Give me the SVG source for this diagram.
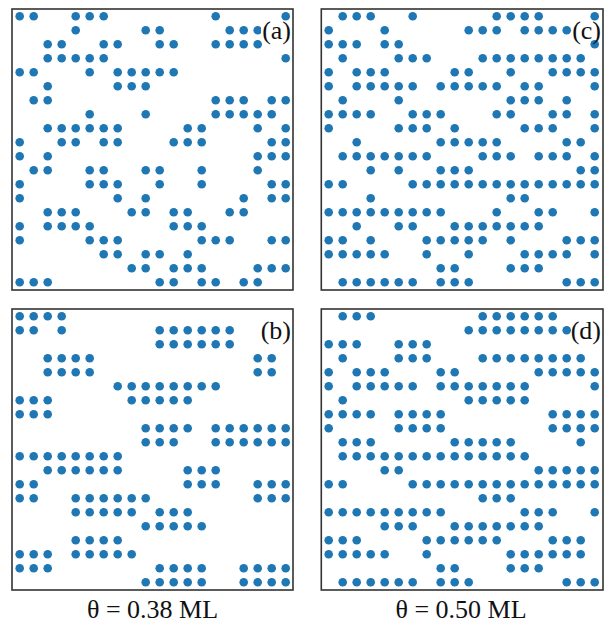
<svg xmlns="http://www.w3.org/2000/svg" width="610" height="624" viewBox="0 0 610 624">
<style>
.box{fill:#fff;stroke:#333;stroke-width:1.6}
.dots circle{fill:#1f77b4}
.lbl{font-family:"Liberation Serif","Times New Roman",serif;font-size:26px;fill:#111}
.cap{font-family:"Liberation Serif","Times New Roman",serif;font-size:26px;fill:#111;text-anchor:middle}
.bg{fill:#fff}
</style>
<rect width="610" height="624" fill="#fff"/>
<g id="panel-a">
<rect class="box" x="12" y="9" width="281" height="281"/>
<g class="dots" transform="translate(19.7,16.3)">
<circle cx="0" cy="0" r="4.3"/><circle cx="14" cy="0" r="4.3"/><circle cx="56" cy="0" r="4.3"/><circle cx="70" cy="0" r="4.3"/><circle cx="84" cy="0" r="4.3"/><circle cx="196" cy="0" r="4.3"/><circle cx="266" cy="0" r="4.3"/>
<circle cx="56" cy="14" r="4.3"/><circle cx="126" cy="14" r="4.3"/><circle cx="140" cy="14" r="4.3"/><circle cx="210" cy="14" r="4.3"/><circle cx="224" cy="14" r="4.3"/><circle cx="238" cy="14" r="4.3"/>
<circle cx="28" cy="28" r="4.3"/><circle cx="42" cy="28" r="4.3"/><circle cx="84" cy="28" r="4.3"/><circle cx="98" cy="28" r="4.3"/><circle cx="140" cy="28" r="4.3"/><circle cx="154" cy="28" r="4.3"/><circle cx="196" cy="28" r="4.3"/><circle cx="210" cy="28" r="4.3"/><circle cx="224" cy="28" r="4.3"/><circle cx="238" cy="28" r="4.3"/>
<circle cx="28" cy="42" r="4.3"/><circle cx="42" cy="42" r="4.3"/><circle cx="56" cy="42" r="4.3"/><circle cx="70" cy="42" r="4.3"/><circle cx="84" cy="42" r="4.3"/><circle cx="266" cy="42" r="4.3"/>
<circle cx="0" cy="56" r="4.3"/><circle cx="14" cy="56" r="4.3"/><circle cx="70" cy="56" r="4.3"/><circle cx="98" cy="56" r="4.3"/><circle cx="112" cy="56" r="4.3"/><circle cx="126" cy="56" r="4.3"/><circle cx="140" cy="56" r="4.3"/><circle cx="154" cy="56" r="4.3"/>
<circle cx="28" cy="70" r="4.3"/><circle cx="98" cy="70" r="4.3"/><circle cx="112" cy="70" r="4.3"/><circle cx="126" cy="70" r="4.3"/>
<circle cx="14" cy="84" r="4.3"/><circle cx="28" cy="84" r="4.3"/><circle cx="196" cy="84" r="4.3"/><circle cx="210" cy="84" r="4.3"/><circle cx="224" cy="84" r="4.3"/><circle cx="252" cy="84" r="4.3"/><circle cx="266" cy="84" r="4.3"/>
<circle cx="70" cy="98" r="4.3"/><circle cx="126" cy="98" r="4.3"/><circle cx="196" cy="98" r="4.3"/><circle cx="210" cy="98" r="4.3"/><circle cx="224" cy="98" r="4.3"/><circle cx="238" cy="98" r="4.3"/><circle cx="252" cy="98" r="4.3"/>
<circle cx="28" cy="112" r="4.3"/><circle cx="42" cy="112" r="4.3"/><circle cx="56" cy="112" r="4.3"/><circle cx="70" cy="112" r="4.3"/><circle cx="84" cy="112" r="4.3"/><circle cx="98" cy="112" r="4.3"/><circle cx="168" cy="112" r="4.3"/><circle cx="182" cy="112" r="4.3"/><circle cx="238" cy="112" r="4.3"/><circle cx="266" cy="112" r="4.3"/>
<circle cx="0" cy="126" r="4.3"/><circle cx="42" cy="126" r="4.3"/><circle cx="56" cy="126" r="4.3"/><circle cx="84" cy="126" r="4.3"/><circle cx="98" cy="126" r="4.3"/><circle cx="154" cy="126" r="4.3"/><circle cx="168" cy="126" r="4.3"/><circle cx="182" cy="126" r="4.3"/><circle cx="252" cy="126" r="4.3"/><circle cx="266" cy="126" r="4.3"/>
<circle cx="0" cy="140" r="4.3"/><circle cx="28" cy="140" r="4.3"/><circle cx="238" cy="140" r="4.3"/><circle cx="252" cy="140" r="4.3"/><circle cx="266" cy="140" r="4.3"/>
<circle cx="14" cy="154" r="4.3"/><circle cx="28" cy="154" r="4.3"/><circle cx="70" cy="154" r="4.3"/><circle cx="84" cy="154" r="4.3"/><circle cx="126" cy="154" r="4.3"/><circle cx="140" cy="154" r="4.3"/><circle cx="182" cy="154" r="4.3"/><circle cx="238" cy="154" r="4.3"/>
<circle cx="0" cy="168" r="4.3"/><circle cx="70" cy="168" r="4.3"/><circle cx="84" cy="168" r="4.3"/><circle cx="98" cy="168" r="4.3"/><circle cx="140" cy="168" r="4.3"/><circle cx="182" cy="168" r="4.3"/><circle cx="252" cy="168" r="4.3"/><circle cx="266" cy="168" r="4.3"/>
<circle cx="0" cy="182" r="4.3"/><circle cx="98" cy="182" r="4.3"/><circle cx="126" cy="182" r="4.3"/><circle cx="224" cy="182" r="4.3"/><circle cx="252" cy="182" r="4.3"/><circle cx="266" cy="182" r="4.3"/>
<circle cx="28" cy="196" r="4.3"/><circle cx="42" cy="196" r="4.3"/><circle cx="56" cy="196" r="4.3"/><circle cx="112" cy="196" r="4.3"/><circle cx="126" cy="196" r="4.3"/><circle cx="154" cy="196" r="4.3"/><circle cx="168" cy="196" r="4.3"/><circle cx="210" cy="196" r="4.3"/><circle cx="224" cy="196" r="4.3"/>
<circle cx="0" cy="210" r="4.3"/><circle cx="28" cy="210" r="4.3"/><circle cx="42" cy="210" r="4.3"/><circle cx="56" cy="210" r="4.3"/><circle cx="70" cy="210" r="4.3"/><circle cx="154" cy="210" r="4.3"/><circle cx="168" cy="210" r="4.3"/><circle cx="182" cy="210" r="4.3"/>
<circle cx="0" cy="224" r="4.3"/><circle cx="70" cy="224" r="4.3"/><circle cx="84" cy="224" r="4.3"/><circle cx="98" cy="224" r="4.3"/><circle cx="182" cy="224" r="4.3"/><circle cx="196" cy="224" r="4.3"/><circle cx="210" cy="224" r="4.3"/><circle cx="252" cy="224" r="4.3"/><circle cx="266" cy="224" r="4.3"/>
<circle cx="84" cy="238" r="4.3"/><circle cx="98" cy="238" r="4.3"/><circle cx="126" cy="238" r="4.3"/><circle cx="140" cy="238" r="4.3"/><circle cx="168" cy="238" r="4.3"/>
<circle cx="112" cy="252" r="4.3"/><circle cx="126" cy="252" r="4.3"/><circle cx="154" cy="252" r="4.3"/><circle cx="168" cy="252" r="4.3"/><circle cx="182" cy="252" r="4.3"/><circle cx="238" cy="252" r="4.3"/><circle cx="252" cy="252" r="4.3"/><circle cx="266" cy="252" r="4.3"/>
<circle cx="0" cy="266" r="4.3"/><circle cx="14" cy="266" r="4.3"/><circle cx="28" cy="266" r="4.3"/><circle cx="140" cy="266" r="4.3"/><circle cx="154" cy="266" r="4.3"/><circle cx="182" cy="266" r="4.3"/><circle cx="196" cy="266" r="4.3"/><circle cx="224" cy="266" r="4.3"/><circle cx="238" cy="266" r="4.3"/>
</g>
<rect class="bg" x="261" y="21" width="30" height="19"/>
<text class="lbl" x="291" y="39" text-anchor="end">(a)</text>
</g>
<g id="panel-c">
<rect class="box" x="321.3" y="9" width="281.7" height="281"/>
<g class="dots" transform="translate(328.7,16.3)">
<circle cx="14" cy="0" r="4.3"/><circle cx="28" cy="0" r="4.3"/><circle cx="42" cy="0" r="4.3"/><circle cx="84" cy="0" r="4.3"/><circle cx="168" cy="0" r="4.3"/><circle cx="182" cy="0" r="4.3"/><circle cx="196" cy="0" r="4.3"/><circle cx="210" cy="0" r="4.3"/><circle cx="266" cy="0" r="4.3"/>
<circle cx="0" cy="14" r="4.3"/><circle cx="56" cy="14" r="4.3"/><circle cx="140" cy="14" r="4.3"/><circle cx="154" cy="14" r="4.3"/><circle cx="168" cy="14" r="4.3"/><circle cx="196" cy="14" r="4.3"/><circle cx="210" cy="14" r="4.3"/><circle cx="224" cy="14" r="4.3"/><circle cx="238" cy="14" r="4.3"/>
<circle cx="0" cy="28" r="4.3"/><circle cx="14" cy="28" r="4.3"/><circle cx="28" cy="28" r="4.3"/><circle cx="56" cy="28" r="4.3"/><circle cx="70" cy="28" r="4.3"/><circle cx="266" cy="28" r="4.3"/>
<circle cx="14" cy="42" r="4.3"/><circle cx="70" cy="42" r="4.3"/><circle cx="84" cy="42" r="4.3"/><circle cx="98" cy="42" r="4.3"/><circle cx="154" cy="42" r="4.3"/><circle cx="168" cy="42" r="4.3"/><circle cx="182" cy="42" r="4.3"/><circle cx="196" cy="42" r="4.3"/><circle cx="210" cy="42" r="4.3"/><circle cx="224" cy="42" r="4.3"/><circle cx="238" cy="42" r="4.3"/><circle cx="252" cy="42" r="4.3"/>
<circle cx="0" cy="56" r="4.3"/><circle cx="28" cy="56" r="4.3"/><circle cx="42" cy="56" r="4.3"/><circle cx="56" cy="56" r="4.3"/><circle cx="126" cy="56" r="4.3"/><circle cx="140" cy="56" r="4.3"/><circle cx="182" cy="56" r="4.3"/><circle cx="224" cy="56" r="4.3"/><circle cx="238" cy="56" r="4.3"/><circle cx="252" cy="56" r="4.3"/><circle cx="266" cy="56" r="4.3"/>
<circle cx="0" cy="70" r="4.3"/><circle cx="28" cy="70" r="4.3"/><circle cx="42" cy="70" r="4.3"/><circle cx="56" cy="70" r="4.3"/><circle cx="70" cy="70" r="4.3"/><circle cx="84" cy="70" r="4.3"/><circle cx="112" cy="70" r="4.3"/><circle cx="126" cy="70" r="4.3"/><circle cx="140" cy="70" r="4.3"/><circle cx="154" cy="70" r="4.3"/><circle cx="168" cy="70" r="4.3"/><circle cx="196" cy="70" r="4.3"/><circle cx="210" cy="70" r="4.3"/><circle cx="266" cy="70" r="4.3"/>
<circle cx="14" cy="84" r="4.3"/><circle cx="70" cy="84" r="4.3"/><circle cx="182" cy="84" r="4.3"/><circle cx="196" cy="84" r="4.3"/><circle cx="210" cy="84" r="4.3"/><circle cx="238" cy="84" r="4.3"/>
<circle cx="0" cy="98" r="4.3"/><circle cx="14" cy="98" r="4.3"/><circle cx="28" cy="98" r="4.3"/><circle cx="42" cy="98" r="4.3"/><circle cx="84" cy="98" r="4.3"/><circle cx="98" cy="98" r="4.3"/><circle cx="112" cy="98" r="4.3"/><circle cx="168" cy="98" r="4.3"/><circle cx="182" cy="98" r="4.3"/><circle cx="224" cy="98" r="4.3"/><circle cx="238" cy="98" r="4.3"/><circle cx="266" cy="98" r="4.3"/>
<circle cx="0" cy="112" r="4.3"/><circle cx="70" cy="112" r="4.3"/><circle cx="84" cy="112" r="4.3"/><circle cx="98" cy="112" r="4.3"/><circle cx="126" cy="112" r="4.3"/><circle cx="196" cy="112" r="4.3"/><circle cx="210" cy="112" r="4.3"/><circle cx="224" cy="112" r="4.3"/><circle cx="266" cy="112" r="4.3"/>
<circle cx="28" cy="126" r="4.3"/><circle cx="112" cy="126" r="4.3"/><circle cx="126" cy="126" r="4.3"/><circle cx="140" cy="126" r="4.3"/><circle cx="154" cy="126" r="4.3"/><circle cx="168" cy="126" r="4.3"/><circle cx="238" cy="126" r="4.3"/><circle cx="252" cy="126" r="4.3"/>
<circle cx="14" cy="140" r="4.3"/><circle cx="28" cy="140" r="4.3"/><circle cx="42" cy="140" r="4.3"/><circle cx="56" cy="140" r="4.3"/><circle cx="70" cy="140" r="4.3"/><circle cx="84" cy="140" r="4.3"/><circle cx="98" cy="140" r="4.3"/><circle cx="154" cy="140" r="4.3"/><circle cx="168" cy="140" r="4.3"/><circle cx="182" cy="140" r="4.3"/><circle cx="210" cy="140" r="4.3"/><circle cx="224" cy="140" r="4.3"/><circle cx="238" cy="140" r="4.3"/><circle cx="266" cy="140" r="4.3"/>
<circle cx="42" cy="154" r="4.3"/><circle cx="70" cy="154" r="4.3"/><circle cx="112" cy="154" r="4.3"/><circle cx="126" cy="154" r="4.3"/><circle cx="140" cy="154" r="4.3"/><circle cx="252" cy="154" r="4.3"/><circle cx="266" cy="154" r="4.3"/>
<circle cx="0" cy="168" r="4.3"/><circle cx="14" cy="168" r="4.3"/><circle cx="84" cy="168" r="4.3"/><circle cx="98" cy="168" r="4.3"/><circle cx="112" cy="168" r="4.3"/><circle cx="126" cy="168" r="4.3"/><circle cx="140" cy="168" r="4.3"/><circle cx="154" cy="168" r="4.3"/><circle cx="168" cy="168" r="4.3"/><circle cx="182" cy="168" r="4.3"/><circle cx="196" cy="168" r="4.3"/><circle cx="210" cy="168" r="4.3"/><circle cx="224" cy="168" r="4.3"/><circle cx="238" cy="168" r="4.3"/><circle cx="252" cy="168" r="4.3"/><circle cx="266" cy="168" r="4.3"/>
<circle cx="42" cy="182" r="4.3"/><circle cx="182" cy="182" r="4.3"/><circle cx="196" cy="182" r="4.3"/>
<circle cx="0" cy="196" r="4.3"/><circle cx="14" cy="196" r="4.3"/><circle cx="28" cy="196" r="4.3"/><circle cx="42" cy="196" r="4.3"/><circle cx="56" cy="196" r="4.3"/><circle cx="70" cy="196" r="4.3"/><circle cx="84" cy="196" r="4.3"/><circle cx="98" cy="196" r="4.3"/><circle cx="112" cy="196" r="4.3"/><circle cx="168" cy="196" r="4.3"/><circle cx="210" cy="196" r="4.3"/><circle cx="224" cy="196" r="4.3"/><circle cx="266" cy="196" r="4.3"/>
<circle cx="28" cy="210" r="4.3"/><circle cx="70" cy="210" r="4.3"/><circle cx="84" cy="210" r="4.3"/><circle cx="126" cy="210" r="4.3"/><circle cx="140" cy="210" r="4.3"/><circle cx="154" cy="210" r="4.3"/><circle cx="168" cy="210" r="4.3"/><circle cx="182" cy="210" r="4.3"/><circle cx="196" cy="210" r="4.3"/><circle cx="210" cy="210" r="4.3"/>
<circle cx="0" cy="224" r="4.3"/><circle cx="14" cy="224" r="4.3"/><circle cx="42" cy="224" r="4.3"/><circle cx="98" cy="224" r="4.3"/><circle cx="112" cy="224" r="4.3"/><circle cx="126" cy="224" r="4.3"/><circle cx="140" cy="224" r="4.3"/><circle cx="154" cy="224" r="4.3"/><circle cx="182" cy="224" r="4.3"/><circle cx="238" cy="224" r="4.3"/><circle cx="252" cy="224" r="4.3"/><circle cx="266" cy="224" r="4.3"/>
<circle cx="0" cy="238" r="4.3"/><circle cx="14" cy="238" r="4.3"/><circle cx="28" cy="238" r="4.3"/><circle cx="42" cy="238" r="4.3"/><circle cx="56" cy="238" r="4.3"/><circle cx="98" cy="238" r="4.3"/><circle cx="140" cy="238" r="4.3"/><circle cx="196" cy="238" r="4.3"/><circle cx="210" cy="238" r="4.3"/><circle cx="224" cy="238" r="4.3"/><circle cx="238" cy="238" r="4.3"/><circle cx="266" cy="238" r="4.3"/>
<circle cx="112" cy="252" r="4.3"/><circle cx="126" cy="252" r="4.3"/><circle cx="182" cy="252" r="4.3"/><circle cx="196" cy="252" r="4.3"/><circle cx="210" cy="252" r="4.3"/>
<circle cx="14" cy="266" r="4.3"/><circle cx="28" cy="266" r="4.3"/><circle cx="42" cy="266" r="4.3"/><circle cx="56" cy="266" r="4.3"/><circle cx="70" cy="266" r="4.3"/><circle cx="84" cy="266" r="4.3"/><circle cx="112" cy="266" r="4.3"/><circle cx="126" cy="266" r="4.3"/><circle cx="140" cy="266" r="4.3"/><circle cx="238" cy="266" r="4.3"/><circle cx="252" cy="266" r="4.3"/><circle cx="266" cy="266" r="4.3"/>
</g>
<rect class="bg" x="572" y="21" width="29" height="19"/>
<text class="lbl" x="601" y="39" text-anchor="end">(c)</text>
</g>
<g id="panel-b">
<rect class="box" x="12" y="309" width="281" height="281"/>
<g class="dots" transform="translate(19.7,316.3)">
<circle cx="0" cy="0" r="4.3"/><circle cx="14" cy="0" r="4.3"/><circle cx="28" cy="0" r="4.3"/><circle cx="42" cy="0" r="4.3"/>
<circle cx="0" cy="14" r="4.3"/><circle cx="14" cy="14" r="4.3"/><circle cx="42" cy="14" r="4.3"/><circle cx="140" cy="14" r="4.3"/><circle cx="154" cy="14" r="4.3"/><circle cx="168" cy="14" r="4.3"/><circle cx="182" cy="14" r="4.3"/><circle cx="196" cy="14" r="4.3"/><circle cx="210" cy="14" r="4.3"/>
<circle cx="140" cy="28" r="4.3"/><circle cx="154" cy="28" r="4.3"/><circle cx="168" cy="28" r="4.3"/><circle cx="182" cy="28" r="4.3"/><circle cx="196" cy="28" r="4.3"/><circle cx="210" cy="28" r="4.3"/>
<circle cx="28" cy="42" r="4.3"/><circle cx="42" cy="42" r="4.3"/><circle cx="56" cy="42" r="4.3"/><circle cx="70" cy="42" r="4.3"/><circle cx="238" cy="42" r="4.3"/><circle cx="252" cy="42" r="4.3"/>
<circle cx="28" cy="56" r="4.3"/><circle cx="42" cy="56" r="4.3"/><circle cx="56" cy="56" r="4.3"/><circle cx="70" cy="56" r="4.3"/><circle cx="238" cy="56" r="4.3"/><circle cx="252" cy="56" r="4.3"/>
<circle cx="98" cy="70" r="4.3"/><circle cx="112" cy="70" r="4.3"/><circle cx="126" cy="70" r="4.3"/><circle cx="140" cy="70" r="4.3"/><circle cx="154" cy="70" r="4.3"/><circle cx="168" cy="70" r="4.3"/><circle cx="182" cy="70" r="4.3"/><circle cx="196" cy="70" r="4.3"/>
<circle cx="0" cy="84" r="4.3"/><circle cx="14" cy="84" r="4.3"/><circle cx="28" cy="84" r="4.3"/><circle cx="112" cy="84" r="4.3"/><circle cx="126" cy="84" r="4.3"/><circle cx="140" cy="84" r="4.3"/><circle cx="154" cy="84" r="4.3"/><circle cx="168" cy="84" r="4.3"/>
<circle cx="0" cy="98" r="4.3"/><circle cx="14" cy="98" r="4.3"/><circle cx="28" cy="98" r="4.3"/>
<circle cx="126" cy="112" r="4.3"/><circle cx="140" cy="112" r="4.3"/><circle cx="154" cy="112" r="4.3"/><circle cx="168" cy="112" r="4.3"/><circle cx="196" cy="112" r="4.3"/><circle cx="210" cy="112" r="4.3"/><circle cx="224" cy="112" r="4.3"/><circle cx="238" cy="112" r="4.3"/><circle cx="252" cy="112" r="4.3"/><circle cx="266" cy="112" r="4.3"/>
<circle cx="126" cy="126" r="4.3"/><circle cx="140" cy="126" r="4.3"/><circle cx="154" cy="126" r="4.3"/><circle cx="196" cy="126" r="4.3"/><circle cx="210" cy="126" r="4.3"/><circle cx="224" cy="126" r="4.3"/><circle cx="238" cy="126" r="4.3"/><circle cx="252" cy="126" r="4.3"/><circle cx="266" cy="126" r="4.3"/>
<circle cx="0" cy="140" r="4.3"/><circle cx="14" cy="140" r="4.3"/><circle cx="28" cy="140" r="4.3"/><circle cx="42" cy="140" r="4.3"/><circle cx="56" cy="140" r="4.3"/><circle cx="70" cy="140" r="4.3"/><circle cx="84" cy="140" r="4.3"/><circle cx="98" cy="140" r="4.3"/>
<circle cx="28" cy="154" r="4.3"/><circle cx="42" cy="154" r="4.3"/><circle cx="56" cy="154" r="4.3"/><circle cx="70" cy="154" r="4.3"/><circle cx="84" cy="154" r="4.3"/><circle cx="98" cy="154" r="4.3"/><circle cx="168" cy="154" r="4.3"/><circle cx="182" cy="154" r="4.3"/><circle cx="196" cy="154" r="4.3"/>
<circle cx="0" cy="168" r="4.3"/><circle cx="14" cy="168" r="4.3"/><circle cx="168" cy="168" r="4.3"/><circle cx="182" cy="168" r="4.3"/><circle cx="196" cy="168" r="4.3"/><circle cx="238" cy="168" r="4.3"/><circle cx="252" cy="168" r="4.3"/><circle cx="266" cy="168" r="4.3"/>
<circle cx="0" cy="182" r="4.3"/><circle cx="14" cy="182" r="4.3"/><circle cx="56" cy="182" r="4.3"/><circle cx="70" cy="182" r="4.3"/><circle cx="84" cy="182" r="4.3"/><circle cx="98" cy="182" r="4.3"/><circle cx="112" cy="182" r="4.3"/><circle cx="126" cy="182" r="4.3"/><circle cx="238" cy="182" r="4.3"/><circle cx="252" cy="182" r="4.3"/><circle cx="266" cy="182" r="4.3"/>
<circle cx="56" cy="196" r="4.3"/><circle cx="70" cy="196" r="4.3"/><circle cx="84" cy="196" r="4.3"/><circle cx="98" cy="196" r="4.3"/><circle cx="112" cy="196" r="4.3"/><circle cx="140" cy="196" r="4.3"/><circle cx="154" cy="196" r="4.3"/><circle cx="168" cy="196" r="4.3"/>
<circle cx="126" cy="210" r="4.3"/><circle cx="140" cy="210" r="4.3"/><circle cx="154" cy="210" r="4.3"/><circle cx="168" cy="210" r="4.3"/><circle cx="182" cy="210" r="4.3"/>
<circle cx="56" cy="224" r="4.3"/><circle cx="70" cy="224" r="4.3"/><circle cx="84" cy="224" r="4.3"/><circle cx="98" cy="224" r="4.3"/>
<circle cx="0" cy="238" r="4.3"/><circle cx="14" cy="238" r="4.3"/><circle cx="28" cy="238" r="4.3"/><circle cx="56" cy="238" r="4.3"/><circle cx="70" cy="238" r="4.3"/><circle cx="84" cy="238" r="4.3"/><circle cx="98" cy="238" r="4.3"/><circle cx="112" cy="238" r="4.3"/>
<circle cx="0" cy="252" r="4.3"/><circle cx="14" cy="252" r="4.3"/><circle cx="28" cy="252" r="4.3"/><circle cx="140" cy="252" r="4.3"/><circle cx="154" cy="252" r="4.3"/><circle cx="168" cy="252" r="4.3"/><circle cx="182" cy="252" r="4.3"/><circle cx="224" cy="252" r="4.3"/><circle cx="238" cy="252" r="4.3"/><circle cx="252" cy="252" r="4.3"/><circle cx="266" cy="252" r="4.3"/>
<circle cx="126" cy="266" r="4.3"/><circle cx="140" cy="266" r="4.3"/><circle cx="154" cy="266" r="4.3"/><circle cx="168" cy="266" r="4.3"/><circle cx="182" cy="266" r="4.3"/><circle cx="224" cy="266" r="4.3"/><circle cx="238" cy="266" r="4.3"/><circle cx="252" cy="266" r="4.3"/><circle cx="266" cy="266" r="4.3"/>
</g>
<rect class="bg" x="261" y="321" width="30" height="19"/>
<text class="lbl" x="291" y="339" text-anchor="end">(b)</text>
</g>
<g id="panel-d">
<rect class="box" x="321.3" y="309" width="281.7" height="281"/>
<g class="dots" transform="translate(328.7,316.3)">
<circle cx="14" cy="0" r="4.3"/><circle cx="28" cy="0" r="4.3"/><circle cx="42" cy="0" r="4.3"/><circle cx="154" cy="0" r="4.3"/><circle cx="168" cy="0" r="4.3"/><circle cx="182" cy="0" r="4.3"/><circle cx="196" cy="0" r="4.3"/><circle cx="210" cy="0" r="4.3"/><circle cx="224" cy="0" r="4.3"/>
<circle cx="140" cy="14" r="4.3"/><circle cx="154" cy="14" r="4.3"/><circle cx="168" cy="14" r="4.3"/><circle cx="182" cy="14" r="4.3"/><circle cx="196" cy="14" r="4.3"/><circle cx="210" cy="14" r="4.3"/><circle cx="224" cy="14" r="4.3"/><circle cx="238" cy="14" r="4.3"/>
<circle cx="0" cy="28" r="4.3"/><circle cx="14" cy="28" r="4.3"/><circle cx="28" cy="28" r="4.3"/><circle cx="70" cy="28" r="4.3"/><circle cx="84" cy="28" r="4.3"/><circle cx="98" cy="28" r="4.3"/>
<circle cx="14" cy="42" r="4.3"/><circle cx="70" cy="42" r="4.3"/><circle cx="84" cy="42" r="4.3"/><circle cx="98" cy="42" r="4.3"/><circle cx="154" cy="42" r="4.3"/><circle cx="168" cy="42" r="4.3"/><circle cx="182" cy="42" r="4.3"/><circle cx="196" cy="42" r="4.3"/><circle cx="210" cy="42" r="4.3"/><circle cx="224" cy="42" r="4.3"/><circle cx="238" cy="42" r="4.3"/><circle cx="252" cy="42" r="4.3"/>
<circle cx="0" cy="56" r="4.3"/><circle cx="28" cy="56" r="4.3"/><circle cx="42" cy="56" r="4.3"/><circle cx="56" cy="56" r="4.3"/><circle cx="112" cy="56" r="4.3"/><circle cx="126" cy="56" r="4.3"/><circle cx="210" cy="56" r="4.3"/><circle cx="224" cy="56" r="4.3"/><circle cx="238" cy="56" r="4.3"/><circle cx="252" cy="56" r="4.3"/><circle cx="266" cy="56" r="4.3"/>
<circle cx="0" cy="70" r="4.3"/><circle cx="28" cy="70" r="4.3"/><circle cx="42" cy="70" r="4.3"/><circle cx="56" cy="70" r="4.3"/><circle cx="70" cy="70" r="4.3"/><circle cx="84" cy="70" r="4.3"/><circle cx="112" cy="70" r="4.3"/><circle cx="126" cy="70" r="4.3"/><circle cx="140" cy="70" r="4.3"/><circle cx="154" cy="70" r="4.3"/><circle cx="168" cy="70" r="4.3"/><circle cx="182" cy="70" r="4.3"/><circle cx="196" cy="70" r="4.3"/><circle cx="266" cy="70" r="4.3"/>
<circle cx="14" cy="84" r="4.3"/><circle cx="140" cy="84" r="4.3"/><circle cx="154" cy="84" r="4.3"/><circle cx="168" cy="84" r="4.3"/><circle cx="182" cy="84" r="4.3"/><circle cx="196" cy="84" r="4.3"/>
<circle cx="0" cy="98" r="4.3"/><circle cx="14" cy="98" r="4.3"/><circle cx="28" cy="98" r="4.3"/><circle cx="42" cy="98" r="4.3"/><circle cx="70" cy="98" r="4.3"/><circle cx="84" cy="98" r="4.3"/><circle cx="98" cy="98" r="4.3"/><circle cx="112" cy="98" r="4.3"/><circle cx="224" cy="98" r="4.3"/><circle cx="238" cy="98" r="4.3"/><circle cx="252" cy="98" r="4.3"/><circle cx="266" cy="98" r="4.3"/>
<circle cx="0" cy="112" r="4.3"/><circle cx="70" cy="112" r="4.3"/><circle cx="84" cy="112" r="4.3"/><circle cx="98" cy="112" r="4.3"/><circle cx="112" cy="112" r="4.3"/><circle cx="224" cy="112" r="4.3"/><circle cx="238" cy="112" r="4.3"/><circle cx="252" cy="112" r="4.3"/><circle cx="266" cy="112" r="4.3"/>
<circle cx="14" cy="126" r="4.3"/><circle cx="28" cy="126" r="4.3"/><circle cx="42" cy="126" r="4.3"/><circle cx="126" cy="126" r="4.3"/><circle cx="140" cy="126" r="4.3"/><circle cx="154" cy="126" r="4.3"/><circle cx="168" cy="126" r="4.3"/><circle cx="182" cy="126" r="4.3"/><circle cx="252" cy="126" r="4.3"/>
<circle cx="14" cy="140" r="4.3"/><circle cx="28" cy="140" r="4.3"/><circle cx="42" cy="140" r="4.3"/><circle cx="56" cy="140" r="4.3"/><circle cx="70" cy="140" r="4.3"/><circle cx="84" cy="140" r="4.3"/><circle cx="98" cy="140" r="4.3"/><circle cx="112" cy="140" r="4.3"/><circle cx="126" cy="140" r="4.3"/><circle cx="140" cy="140" r="4.3"/><circle cx="154" cy="140" r="4.3"/><circle cx="168" cy="140" r="4.3"/><circle cx="182" cy="140" r="4.3"/><circle cx="196" cy="140" r="4.3"/>
<circle cx="56" cy="154" r="4.3"/><circle cx="70" cy="154" r="4.3"/><circle cx="210" cy="154" r="4.3"/><circle cx="224" cy="154" r="4.3"/><circle cx="238" cy="154" r="4.3"/><circle cx="252" cy="154" r="4.3"/><circle cx="266" cy="154" r="4.3"/>
<circle cx="0" cy="168" r="4.3"/><circle cx="14" cy="168" r="4.3"/><circle cx="84" cy="168" r="4.3"/><circle cx="98" cy="168" r="4.3"/><circle cx="112" cy="168" r="4.3"/><circle cx="126" cy="168" r="4.3"/><circle cx="140" cy="168" r="4.3"/><circle cx="154" cy="168" r="4.3"/><circle cx="168" cy="168" r="4.3"/><circle cx="182" cy="168" r="4.3"/><circle cx="196" cy="168" r="4.3"/><circle cx="210" cy="168" r="4.3"/><circle cx="224" cy="168" r="4.3"/><circle cx="238" cy="168" r="4.3"/><circle cx="252" cy="168" r="4.3"/><circle cx="266" cy="168" r="4.3"/>
<circle cx="154" cy="182" r="4.3"/><circle cx="168" cy="182" r="4.3"/><circle cx="182" cy="182" r="4.3"/>
<circle cx="0" cy="196" r="4.3"/><circle cx="14" cy="196" r="4.3"/><circle cx="28" cy="196" r="4.3"/><circle cx="42" cy="196" r="4.3"/><circle cx="56" cy="196" r="4.3"/><circle cx="70" cy="196" r="4.3"/><circle cx="84" cy="196" r="4.3"/><circle cx="98" cy="196" r="4.3"/><circle cx="112" cy="196" r="4.3"/><circle cx="196" cy="196" r="4.3"/><circle cx="210" cy="196" r="4.3"/><circle cx="224" cy="196" r="4.3"/><circle cx="266" cy="196" r="4.3"/>
<circle cx="56" cy="210" r="4.3"/><circle cx="70" cy="210" r="4.3"/><circle cx="84" cy="210" r="4.3"/><circle cx="126" cy="210" r="4.3"/><circle cx="140" cy="210" r="4.3"/><circle cx="154" cy="210" r="4.3"/><circle cx="168" cy="210" r="4.3"/><circle cx="182" cy="210" r="4.3"/><circle cx="196" cy="210" r="4.3"/><circle cx="210" cy="210" r="4.3"/>
<circle cx="0" cy="224" r="4.3"/><circle cx="14" cy="224" r="4.3"/><circle cx="28" cy="224" r="4.3"/><circle cx="98" cy="224" r="4.3"/><circle cx="112" cy="224" r="4.3"/><circle cx="126" cy="224" r="4.3"/><circle cx="140" cy="224" r="4.3"/><circle cx="154" cy="224" r="4.3"/><circle cx="168" cy="224" r="4.3"/><circle cx="224" cy="224" r="4.3"/><circle cx="238" cy="224" r="4.3"/><circle cx="252" cy="224" r="4.3"/>
<circle cx="0" cy="238" r="4.3"/><circle cx="14" cy="238" r="4.3"/><circle cx="28" cy="238" r="4.3"/><circle cx="42" cy="238" r="4.3"/><circle cx="56" cy="238" r="4.3"/><circle cx="98" cy="238" r="4.3"/><circle cx="182" cy="238" r="4.3"/><circle cx="196" cy="238" r="4.3"/><circle cx="210" cy="238" r="4.3"/><circle cx="224" cy="238" r="4.3"/><circle cx="238" cy="238" r="4.3"/><circle cx="252" cy="238" r="4.3"/>
<circle cx="112" cy="252" r="4.3"/><circle cx="126" cy="252" r="4.3"/><circle cx="182" cy="252" r="4.3"/><circle cx="196" cy="252" r="4.3"/><circle cx="210" cy="252" r="4.3"/>
<circle cx="14" cy="266" r="4.3"/><circle cx="28" cy="266" r="4.3"/><circle cx="42" cy="266" r="4.3"/><circle cx="56" cy="266" r="4.3"/><circle cx="70" cy="266" r="4.3"/><circle cx="84" cy="266" r="4.3"/><circle cx="112" cy="266" r="4.3"/><circle cx="126" cy="266" r="4.3"/><circle cx="140" cy="266" r="4.3"/><circle cx="238" cy="266" r="4.3"/><circle cx="252" cy="266" r="4.3"/><circle cx="266" cy="266" r="4.3"/>
</g>
<rect class="bg" x="572" y="321" width="29" height="19"/>
<text class="lbl" x="601" y="339" text-anchor="end">(d)</text>
</g>
<g id="connectors"/>
<text class="cap" x="152.5" y="618">θ = 0.38 ML</text>
<text class="cap" x="461" y="618">θ = 0.50 ML</text>
</svg>
